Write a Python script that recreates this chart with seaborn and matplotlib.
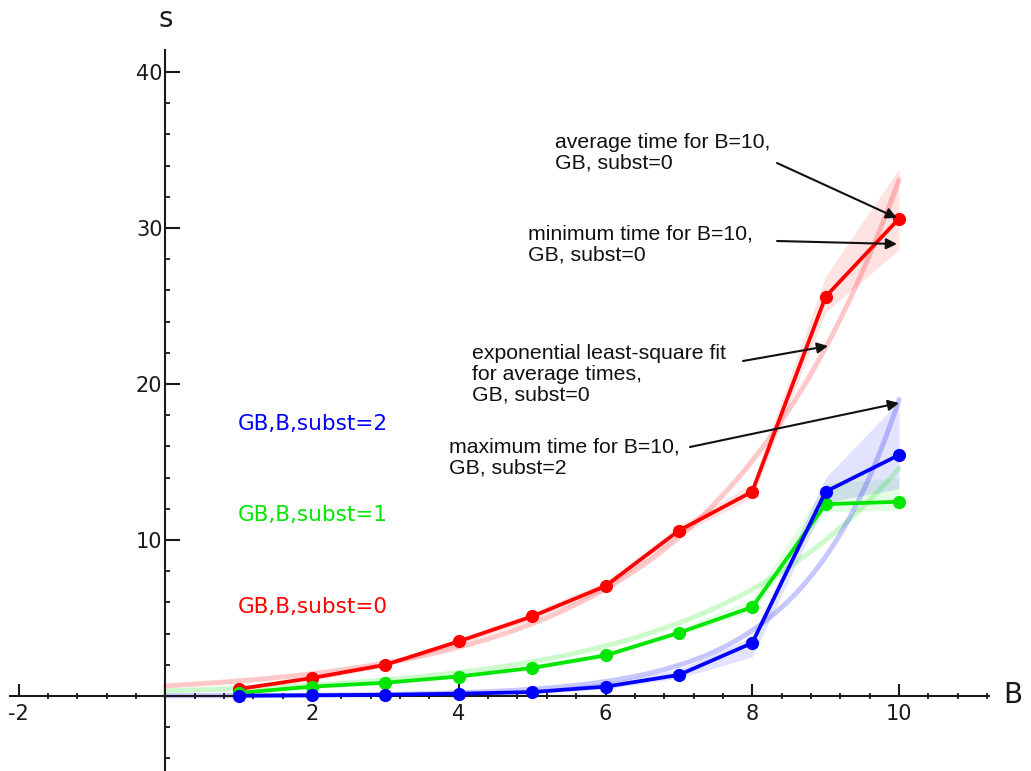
import numpy as np
import pandas as pd
import matplotlib
matplotlib.use("Agg")
import matplotlib.pyplot as plt
import seaborn as sns
from matplotlib.ticker import FixedLocator

# ---------------- data ----------------
B = [1, 2, 3, 4, 5, 6, 7, 8, 9, 10]

avg_s0 = [0.45, 1.15, 2.0, 3.5, 5.1, 7.05, 10.6, 13.1, 25.6, 30.6]
min_s0 = [0.38, 1.0, 1.85, 3.3, 4.85, 6.8, 10.3, 12.7, 24.6, 28.6]
max_s0 = [0.55, 1.3, 2.15, 3.7, 5.35, 7.35, 10.9, 13.6, 26.9, 33.8]

avg_s1 = [0.2, 0.6, 0.85, 1.25, 1.8, 2.6, 4.05, 5.7, 12.3, 12.45]
min_s1 = [0.15, 0.5, 0.75, 1.15, 1.65, 2.45, 3.9, 5.4, 11.8, 11.9]
max_s1 = [0.25, 0.7, 0.95, 1.35, 2.0, 2.8, 4.3, 6.2, 13.6, 14.0]

avg_s2 = [0.02, 0.05, 0.08, 0.15, 0.25, 0.6, 1.35, 3.4, 13.1, 15.45]
min_s2 = [0.01, 0.03, 0.06, 0.1, 0.18, 0.45, 1.15, 2.5, 12.4, 13.3]
max_s2 = [0.04, 0.08, 0.12, 0.22, 0.4, 0.85, 1.7, 3.8, 14.0, 18.9]

# exponential least-square fit parameters  s = a * exp(b * B)
fit_a = [0.65, 0.33, 0.01]
fit_b = [0.393, 0.379, 0.755]

series_names = ["GB,B,subst=0", "GB,B,subst=1", "GB,B,subst=2"]
series_colors = ["#ff0000", "#00e600", "#0000ff"]

x_major = [-2, 2, 4, 6, 8, 10]
y_major = [10, 20, 30, 40]

# ---------------- style ----------------
sns.set_style("white")
plt.rcParams["font.family"] = ["DejaVu Sans"]

W, H = 1031, 771
fig = plt.figure(figsize=(W / 100, H / 100), dpi=100)
ax = fig.add_axes([0, 0, 1, 1])

# pixel mapping (for layout of the frame only)
X0PX, XSC = 165.25, 73.375
Y0PX, YSC = 696.0, 15.6
def px2x(p):
    return (p - X0PX) / XSC
def py2y(p):
    return (Y0PX - p) / YSC

ax.set_xlim(px2x(0), px2x(W))
ax.set_ylim(py2y(H), py2y(0))

avgs = [avg_s0, avg_s1, avg_s2]
mins = [min_s0, min_s1, min_s2]
maxs = [max_s0, max_s1, max_s2]

# bands and fits
xfit = np.linspace(0, 10, 300)
fit_alpha = [0.22, 0.2, 0.22]
for i in range(3):
    c = series_colors[i]
    ax.fill_between(B, mins[i], maxs[i], color=c, alpha=0.11, lw=0, zorder=1)
    yfit = fit_a[i] * np.exp(fit_b[i] * xfit)
    sns.lineplot(x=xfit, y=yfit, ax=ax, color=c, alpha=fit_alpha[i], linewidth=3.6,
                 zorder=2, legend=False)

# main lines
for i in range(3):
    df = pd.DataFrame({"B": B, "s": avgs[i]})
    sns.lineplot(data=df, x="B", y="s", ax=ax, color=series_colors[i],
                 linewidth=2.7, marker="o", markersize=9.5, markeredgewidth=0,
                 zorder=3 + i, legend=False)

# ---------------- axes ----------------
for side in ["top", "right"]:
    ax.spines[side].set_visible(False)
ax.spines["left"].set_position(("data", 0))
ax.spines["bottom"].set_position(("data", 0))
for side in ["left", "bottom"]:
    ax.spines[side].set_color("#1a1a1a")
    ax.spines[side].set_linewidth(1.5)
    ax.spines[side].set_zorder(2.5)
ax.spines["bottom"].set_bounds(-2.12, 11.22)
ax.spines["left"].set_bounds(py2y(H), 41.4)

ax.xaxis.set_major_locator(FixedLocator(x_major))
ax.yaxis.set_major_locator(FixedLocator(y_major))
xminor = [v for v in np.round(np.arange(-2, 11.21, 0.4), 2) if v not in x_major and abs(v) > 1e-9]
yminor = [v for v in range(-4, 41, 2) if v not in y_major and v != 0]
ax.xaxis.set_minor_locator(FixedLocator(xminor))
ax.yaxis.set_minor_locator(FixedLocator(yminor))
ax.set_xticklabels([str(v) for v in x_major])
ax.set_yticklabels([str(v) for v in y_major])

ax.tick_params(axis="x", which="major", direction="in", length=9, width=1.5,
               colors="#1a1a1a", labelsize=15, pad=6, bottom=True)
ax.tick_params(axis="x", which="minor", direction="inout", length=5, width=1.3,
               colors="#1a1a1a", bottom=True)
ax.tick_params(axis="y", which="major", direction="in", length=11, width=1.5,
               colors="#1a1a1a", labelsize=15, pad=2, left=True)
ax.tick_params(axis="y", which="minor", direction="in", length=3.8, width=1.3,
               colors="#1a1a1a", left=True)
ax.set_xlabel("")
ax.set_ylabel("")

ax.text(px2x(166), py2y(19), "s", fontsize=20, ha="center", va="center", color="#1a1a1a")
ax.text(px2x(1003), py2y(695), "B", fontsize=20, ha="left", va="center", color="#1a1a1a")

# series labels
label_base_px = [613, 521, 430]
for i in range(3):
    ax.text(px2x(238), py2y(label_base_px[i]), series_names[i], color=series_colors[i],
            fontsize=15.5, ha="left", va="baseline")

# annotations
afont = dict(family=["Liberation Sans", "DejaVu Sans"], fontsize=15.3, color="#111111",
             ha="left", va="top", linespacing=1.12)
ax.text(px2x(555), py2y(133), "average time for B=10,\nGB, subst=0", **afont)
ax.text(px2x(528), py2y(225), "minimum time for B=10,\nGB, subst=0", **afont)
ax.text(px2x(472), py2y(344), "exponential least-square fit\nfor average times,\nGB, subst=0", **afont)
ax.text(px2x(449), py2y(438), "maximum time for B=10,\nGB, subst=2", **afont)

arrows = [((777, 163), (897, 218)),
          ((777, 241), (897, 244)),
          ((743, 361), (828, 346)),
          ((690, 447), (899, 403))]
for (tx, ty), (hx, hy) in arrows:
    ax.annotate("", xy=(px2x(hx), py2y(hy)), xytext=(px2x(tx), py2y(ty)),
                arrowprops=dict(arrowstyle="-|>", color="#111111", lw=1.5,
                                mutation_scale=16, shrinkA=0, shrinkB=0),
                zorder=10)

fig.savefig("out.png", dpi=100)
